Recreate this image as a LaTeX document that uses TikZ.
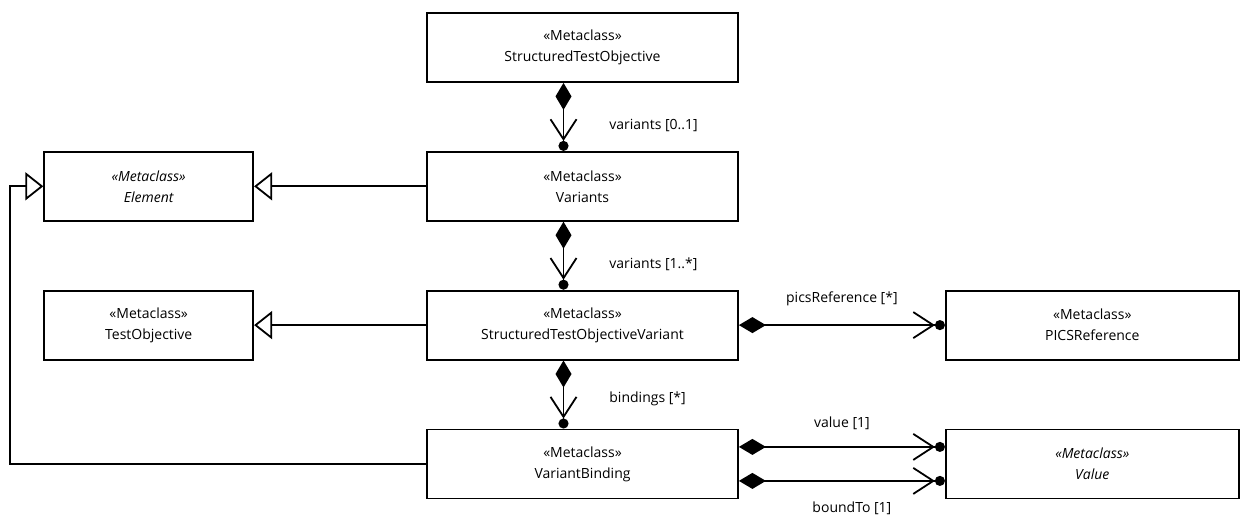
\documentclass[tikz,border=0pt]{standalone}
\usepackage{fontspec}
\setmainfont{Open Sans}
\usetikzlibrary{arrows.meta,positioning}

\begin{document}
\begin{tikzpicture}[
		x=1pt, y=1pt,
		node distance=68pt,
		font=\fontsize{14}{21}\selectfont,
		metaclass/.style={draw, line width=1.8pt, fill=white, minimum width=311pt, minimum height=69pt, align=center, inner sep=0pt},
		smallclass/.style={metaclass, minimum width=209pt},
		abstract/.style={font=\fontsize{14}{21}\selectfont\itshape},
		role/.style={inner sep=0pt},
		link/.style={line width=1.8pt},
		composition/.style={link, {Diamond[length=27pt,width=16pt]}-{Straight Barb[length=20pt,width=26pt] Circle[length=10pt]}},
		generalization/.style={link, -{Triangle[open,fill=white,length=18pt,width=28pt]}},
	]
		\useasboundingbox (0,0) rectangle (1241,-514);
		\node [metaclass] (sto) at (582.5,-47.5) {«Metaclass»\\StructuredTestObjective};
		\node [metaclass, below=of sto] (variants) {«Metaclass»\\Variants};
		\node [metaclass, below=of variants] (stov) {«Metaclass»\\StructuredTestObjectiveVariant};
		\node [metaclass, below=of stov] (binding) {«Metaclass»\\VariantBinding};
		\node [smallclass, abstract, left=172pt of variants] (element) {«Metaclass»\\Element};
		\node [smallclass, left=172pt of stov] (testobj) {«Metaclass»\\TestObjective};
		\node [metaclass, minimum width=293pt, right=206pt of stov] (pics) {«Metaclass»\\PICSReference};
		\node [metaclass, abstract, minimum width=293pt, right=206pt of binding] (value) {«Metaclass»\\Value};
		
		\draw[composition] ([xshift=-19pt]sto.south) -- ([xshift=-19pt]variants.north) node[role, pos=0.63, right=45pt] {variants [0..1]};
		\draw[composition] ([xshift=-19pt]variants.south) -- ([xshift=-19pt]stov.north) node[role, pos=0.63, right=45pt] {variants [1..*]};
		\draw[composition] ([xshift=-19pt]stov.south) -- ([xshift=-19pt]binding.north) node[role, pos=0.56, right=45pt] {bindings [*]};
		\draw[composition] (stov.east) -- (pics.west) node[role, midway, yshift=26pt] {picsReference [*]};
		\draw[composition] ([yshift=17pt]binding.east) -- ([yshift=17pt]value.west) node[role, midway, yshift=24pt] {value [1]};
		\draw[composition] ([yshift=-17pt]binding.east) -- ([yshift=-17pt]value.west) node[role, midway, yshift=-27pt, xshift=10pt] {boundTo [1]};
		
		\draw[generalization] (variants.west) -- (element.east);
		\draw[generalization] (stov.west) -- (testobj.east);
		\draw[generalization] (binding.west) -| ([xshift=-33pt]element.west) -- (element.west);
	\end{tikzpicture}
\end{document}
